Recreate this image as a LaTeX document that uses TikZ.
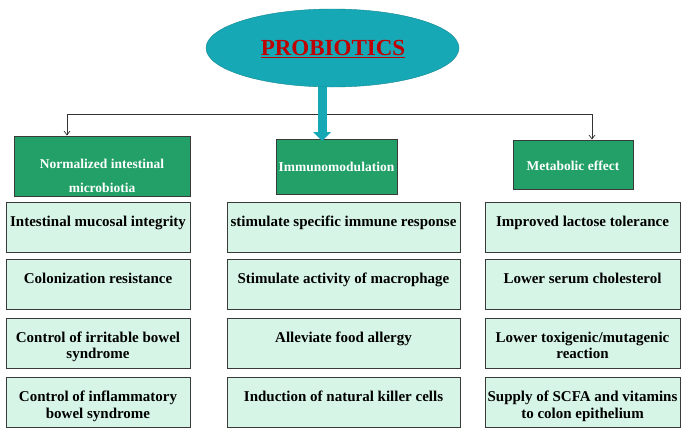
\documentclass[tikz,border=0pt]{standalone}
\usepackage{fontspec}
\setmainfont{Liberation Serif}
\usetikzlibrary{shapes.geometric,arrows.meta}
\definecolor{teal1}{HTML}{17A8B6}
\definecolor{green1}{HTML}{22A067}
\definecolor{mint}{HTML}{D6F5E7}
\definecolor{red1}{HTML}{C00000}
\definecolor{edge1}{HTML}{3A3A3A}
\tikzset{
  head/.style={draw=edge1, line width=0.9pt, fill=green1, text=white, font=\bfseries\fontsize{13.5}{19}\selectfont, align=center, inner sep=0pt},
  item/.style={draw=edge1, line width=0.9pt, fill=mint, inner sep=0pt},
  lbl/.style={font=\bfseries\fontsize{15}{16.5}\selectfont, align=center, anchor=north, inner sep=0pt},
  conn/.style={draw=black!80, line width=0.7pt},
}
\begin{document}
\begin{tikzpicture}[x=1pt,y=-1pt]
\useasboundingbox (0,0) rectangle (685,439);
% ellipse
\node[ellipse, fill=teal1, draw=teal1!80!black, line width=0.4pt, minimum width=253, minimum height=78, inner sep=0pt] (pro) at (332.5,48) {};
\node[text=red1, font=\bfseries\fontsize{23}{25}\selectfont] (protxt) at (333,49) {\underline{PROBIOTICS}};
% heads
\node[head, minimum width=176, minimum height=60] (h1) at (102,166) {};
\node[text=white, font=\bfseries\fontsize{13.5}{19}\selectfont, align=center, anchor=north, inner sep=0pt] (h1t) at (102,159) {Normalized intestinal\\[5pt]microbiotia};
\node[head, minimum width=121, minimum height=55] (h2) at (336.5,166.5) {Immunomodulation};
\node[head, minimum width=120, minimum height=49] (h3) at (573,164.5) {};
\node[text=white, font=\bfseries\fontsize{13.5}{19}\selectfont, inner sep=0pt] (h3t) at (573,166) {Metabolic effect};
% connectors
\coordinate (jl) at (67,114);
\coordinate (jr) at (592,114);
\draw[conn, -{Straight Barb[length=4pt,width=6pt]}] (jr) -- (jl) -- (jl |- h1.north);
\draw[conn, -{Straight Barb[length=4pt,width=6pt]}] (jl) -- (jr) -- (jr |- h3.north);
\fill[teal1] (318,87) rectangle (327,132);
\fill[teal1] (313,132) -- (331,132) -- (322,141) -- cycle;
\coordinate (arrowtip) at (322,141);
% items
\newcommand{\itemrow}[2]{%
  \node[item, minimum width=184, minimum height=50] (l#1) at (98,#2) {};
  \node[item, minimum width=233, minimum height=50] (m#1) at (343.5,#2) {};
  \node[item, minimum width=195, minimum height=50] (r#1) at (582.5,#2) {};
}
\itemrow{1}{227.5}
\itemrow{2}{284.5}
\itemrow{3}{343}
\itemrow{4}{402.5}
\node[lbl] (t11) at ([yshift=-14]l1.north) {Intestinal mucosal integrity};
\node[lbl] (t12) at ([yshift=-14]l2.north) {Colonization resistance};
\node[lbl] (t13) at ([yshift=-14]l3.north) {Control of irritable bowel\\syndrome};
\node[lbl] (t14) at ([yshift=-14]l4.north) {Control of inflammatory\\bowel syndrome};
\node[lbl] (t21) at ([yshift=-14]m1.north) {stimulate specific immune response};
\node[lbl] (t22) at ([yshift=-14]m2.north) {Stimulate activity of macrophage};
\node[lbl] (t23) at ([yshift=-14]m3.north) {Alleviate food allergy};
\node[lbl] (t24) at ([yshift=-14]m4.north) {Induction of natural killer cells};
\node[lbl] (t31) at ([yshift=-14]r1.north) {Improved lactose tolerance};
\node[lbl] (t32) at ([yshift=-14]r2.north) {Lower serum cholesterol};
\node[lbl] (t33) at ([yshift=-14]r3.north) {Lower toxigenic/mutagenic\\reaction};
\node[lbl] (t34) at ([yshift=-14]r4.north) {Supply of SCFA and vitamins\\to colon epithelium};
\end{tikzpicture}
\end{document}
